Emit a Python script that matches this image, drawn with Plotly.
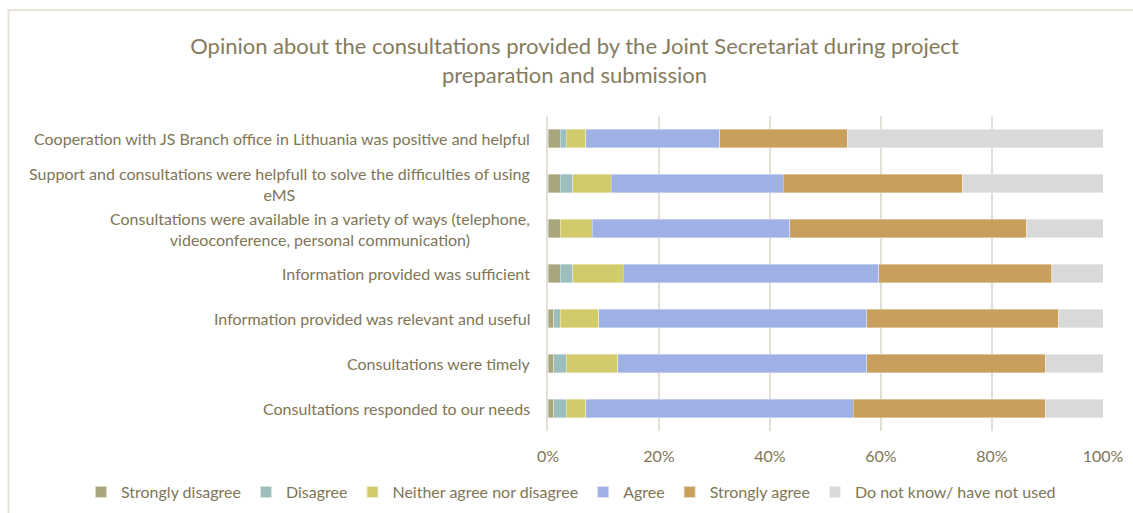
import plotly.graph_objects as go

# Survey statements (top to bottom)
statements = [
    "Cooperation with JS Branch office in Lithuania was positive and helpful",
    "Support and consultations were helpfull to solve the difficulties of using<br>eMS",
    "Consultations were available in a variety of ways (telephone,<br>videoconference, personal communication)",
    "Information provided was sufficient",
    "Information provided was relevant and useful",
    "Consultations were timely",
    "Consultations responded to our needs",
]

# Share of answers per statement, in percent
strongly_disagree = [2.2, 2.2, 2.2, 2.2, 1.0, 1.0, 1.0]
disagree          = [1.1, 2.3, 0.0, 2.3, 1.2, 2.3, 2.3]
neither           = [3.5, 6.9, 5.8, 9.1, 6.9, 9.3, 3.5]
agree             = [24.1, 31.0, 35.6, 46.0, 48.3, 44.8, 48.2]
strongly_agree    = [23.0, 32.2, 42.6, 31.2, 34.5, 32.2, 34.6]
do_not_know       = [46.1, 25.4, 13.8, 9.2, 8.1, 10.4, 10.4]

series_names = ["Strongly disagree", "Disagree", "Neither agree nor disagree",
                "Agree", "Strongly agree", "Do not know/ have not used"]
series_values = [strongly_disagree, disagree, neither, agree, strongly_agree, do_not_know]
series_colors = ["#A9A57C", "#9CBEBD", "#D2CB6C", "#9FB0E4", "#C89F5D", "#D9D9D9"]

x_ticks = [0, 20, 40, 60, 80, 100]
x_tick_text = ["0%", "20%", "40%", "60%", "80%", "100%"]

TEXT = "#807556"
GRID = "#E3DFD6"
FONT = "Lato, 'Open Sans', sans-serif"

# Plot region: 548 px from the left, 555 px wide, inside a 585 px paper area
W, H = 1133, 513
LEFT, PAPER_W, AXIS_W = 548, 585, 555
TOP, BOTTOM = 116, 82
PAPER_H = H - TOP - BOTTOM

cat_ids = [f"s{i}" for i in range(len(statements))]

fig = go.Figure()
for name, vals, col in zip(series_names, series_values, series_colors):
    fig.add_trace(go.Bar(
        y=cat_ids, x=vals, name=name, orientation="h",
        marker=dict(color=col, line=dict(color="rgba(255,255,255,0.6)", width=0.6)),
        hoverinfo="name+x",
    ))

# Category labels: right-aligned block, lines centred within it
for cid, label in zip(cat_ids, statements):
    fig.add_annotation(
        x=0, xref="paper", xanchor="right", xshift=-16,
        y=cid, yref="y", yanchor="middle",
        text=label, showarrow=False, align="center",
        font=dict(family=FONT, size=16, color=TEXT),
    )

# Light chart frame
fig.add_shape(type="rect", xref="paper", yref="paper",
              x0=(8.5 - LEFT) / PAPER_W, x1=1.1,
              y0=-0.40, y1=1 + (TOP - 10) / PAPER_H,
              line=dict(color="#E6E2D8", width=2), fillcolor="rgba(0,0,0,0)",
              layer="below")

fig.update_layout(
    width=W, height=H,
    barmode="stack", bargap=0.59,
    paper_bgcolor="white", plot_bgcolor="white",
    margin=dict(l=LEFT, r=0, t=TOP, b=BOTTOM),
    title=dict(
        text="Opinion about the consultations provided by the Joint Secretariat during project<br>preparation and submission",
        x=0.507, xanchor="center", xref="container", y=0.894, yanchor="middle", yref="container",
        font=dict(family=FONT, size=22, color="#867B5D"),
    ),
    font=dict(family=FONT, color=TEXT),
    showlegend=True,
    legend=dict(
        orientation="h", x=(81 - LEFT) / PAPER_W, xref="paper", xanchor="left",
        y=-(492 - (H - BOTTOM)) / PAPER_H, yref="paper", yanchor="middle",
        font=dict(family=FONT, size=16, color=TEXT),
        traceorder="normal", itemsizing="constant",
        tracegroupgap=0,
    ),
    xaxis=dict(
        domain=[0, AXIS_W / PAPER_W], automargin=False,
        range=[0, 100], tickvals=x_ticks, ticktext=x_tick_text,
        showgrid=True, gridcolor=GRID, gridwidth=2,
        zeroline=False, showline=False, ticks="",
        ticklabelstandoff=14,
        tickfont=dict(family=FONT, size=16, color=TEXT),
        fixedrange=True,
    ),
    yaxis=dict(
        categoryorder="array", categoryarray=cat_ids, autorange="reversed",
        automargin=False,
        showticklabels=False, showgrid=False, zeroline=False,
        showline=True, linecolor=GRID, linewidth=2, ticks="",
        fixedrange=True,
    ),
)

fig.write_html("out.html")
